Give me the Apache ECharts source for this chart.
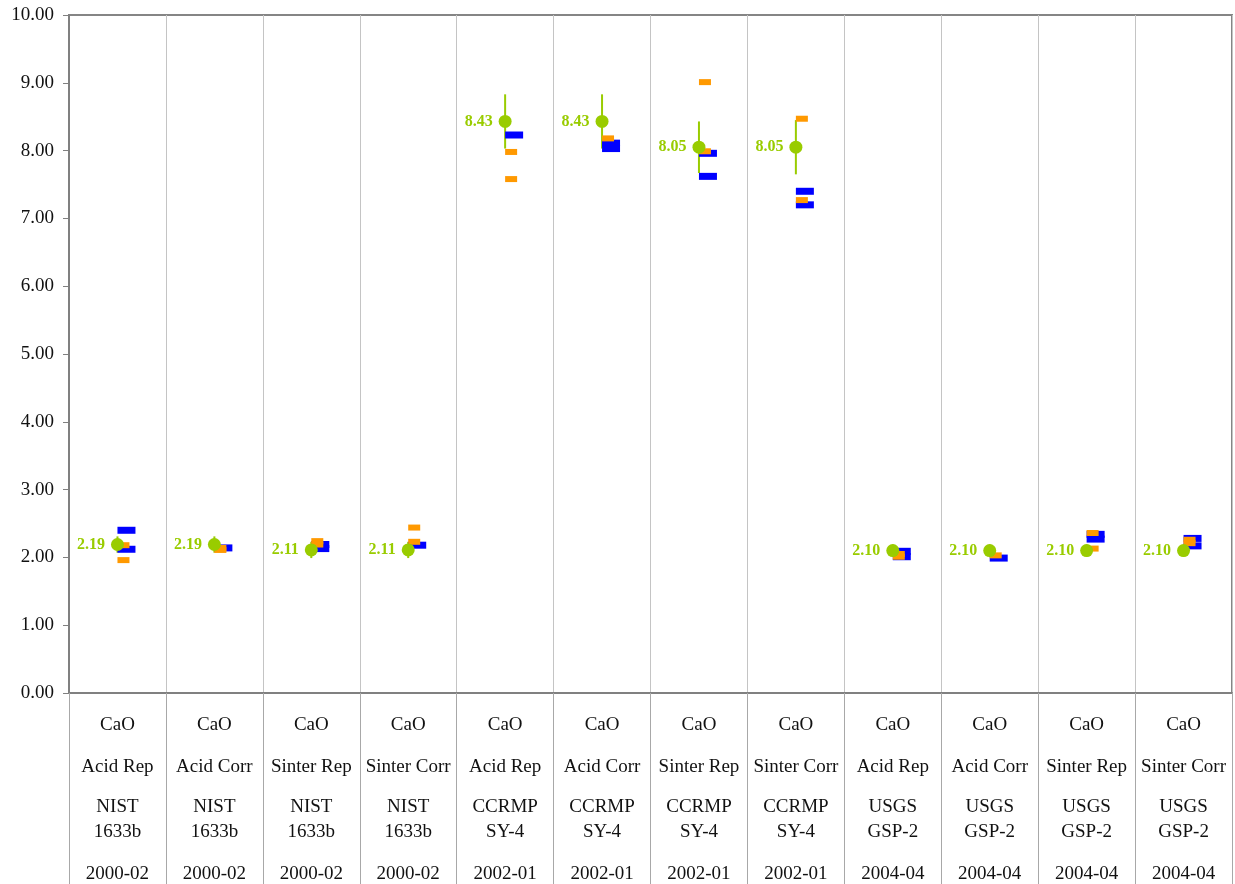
<!DOCTYPE html>
<html>
<head>
<meta charset="utf-8">
<script src="https://cdn.jsdelivr.net/npm/echarts@6/dist/echarts.min.js"></script>
<style>
  html, body { margin: 0; padding: 0; background: #ffffff; }
  #chart { width: 1235px; height: 884px; }
</style>
</head>
<body>
<div id="chart"></div>
<script>
// Category label parts: oxide, digestion / method, reference material, date
const oxides = ['CaO', 'CaO', 'CaO', 'CaO', 'CaO', 'CaO', 'CaO', 'CaO', 'CaO', 'CaO', 'CaO', 'CaO'];
const methods = ['Acid Rep', 'Acid Corr', 'Sinter Rep', 'Sinter Corr', 'Acid Rep', 'Acid Corr', 'Sinter Rep', 'Sinter Corr', 'Acid Rep', 'Acid Corr', 'Sinter Rep', 'Sinter Corr'];
const materialNames = ['NIST', 'NIST', 'NIST', 'NIST', 'CCRMP', 'CCRMP', 'CCRMP', 'CCRMP', 'USGS', 'USGS', 'USGS', 'USGS'];
const materialIds = ['1633b', '1633b', '1633b', '1633b', 'SY-4', 'SY-4', 'SY-4', 'SY-4', 'GSP-2', 'GSP-2', 'GSP-2', 'GSP-2'];
const dates = ['2000-02', '2000-02', '2000-02', '2000-02', '2002-01', '2002-01', '2002-01', '2002-01', '2004-04', '2004-04', '2004-04', '2004-04'];

// Certified values and their uncertainty
const certified = [2.19, 2.19, 2.11, 2.11, 8.43, 8.43, 8.05, 8.05, 2.10, 2.10, 2.10, 2.10];
const uncertainty = [0.12, 0.12, 0.12, 0.12, 0.40, 0.40, 0.38, 0.40, 0.09, 0.09, 0.09, 0.09];

// Measured results, lab A (blue) and lab B (orange)
const blueValues = [
  [2.40, 2.12], [2.14], [2.19, 2.13], [2.18],
  [8.23], [8.11, 8.03], [7.96, 7.62], [7.40, 7.20],
  [2.09, 2.01], [1.99], [2.34, 2.27], [2.28, 2.17]
];
const orangeValues = [
  [2.18, 1.96], [2.14, 2.11], [2.24, 2.19], [2.44, 2.23],
  [7.98, 7.58], [8.18], [9.01, 7.99], [8.47, 7.27],
  [2.05, 2.01], [2.03], [2.36, 2.13], [2.26, 2.21]
];

const yTicks = { min: 0, max: 10, interval: 1 };

const categories = oxides.map((o, i) =>
  '{ox|' + o + '}\n{me|' + methods[i] + '}\n{mn|' + materialNames[i] + '}\n{mi|' + materialIds[i] + '}\n{dt|' + dates[i] + '}'
);

function toPoints(groups) {
  const pts = [];
  groups.forEach((vals, i) => vals.forEach(v => pts.push([i, v])));
  return pts;
}

const green = '#99cc00';
const serif = 'Liberation Serif';
const labelLine = (h) => ({ fontFamily: serif, fontSize: 19, color: '#111111', lineHeight: h });

const chart = echarts.init(document.getElementById('chart'), null, { renderer: 'canvas' });

chart.setOption({
  animation: false,
  backgroundColor: '#ffffff',
  grid: {
    left: 69, right: 3, top: 15, bottom: 191,
    show: true, borderColor: '#858585', borderWidth: 2
  },
  xAxis: {
    type: 'category',
    data: categories,
    boundaryGap: true,
    axisLine: { show: true, lineStyle: { color: '#808080', width: 2 } },
    axisTick: { show: true, length: 191, lineStyle: { color: '#a8a8a8', width: 1 } },
    splitLine: { show: true, lineStyle: { color: '#c4c4c4', width: 1 } },
    axisLabel: {
      interval: 0,
      margin: 17,
      fontFamily: serif,
      fontSize: 19,
      color: '#111111',
      rich: {
        ox: labelLine(30),
        me: labelLine(54),
        mn: labelLine(26),
        mi: labelLine(24),
        dt: labelLine(60)
      }
    }
  },
  yAxis: {
    type: 'value',
    min: yTicks.min,
    max: yTicks.max,
    interval: yTicks.interval,
    axisLine: { show: true, lineStyle: { color: '#808080', width: 2 } },
    axisTick: { show: true, inside: false, length: 6, lineStyle: { color: '#808080' } },
    splitLine: { show: false },
    axisLabel: {
      margin: 15,
      fontFamily: serif,
      fontSize: 19,
      color: '#111111',
      formatter: v => v.toFixed(2)
    }
  },
  series: [
    {
      name: 'Uncertainty',
      type: 'custom',
      data: certified.map((v, i) => [i, v, uncertainty[i]]),
      renderItem: function (params, api) {
        const i = api.value(0), v = api.value(1), u = api.value(2);
        const top = api.coord([i, v + u]);
        const bot = api.coord([i, v - u]);
        return {
          type: 'line',
          shape: { x1: top[0], y1: top[1], x2: bot[0], y2: bot[1] },
          style: { stroke: green, lineWidth: 2 }
        };
      },
      z: 2
    },
    {
      name: 'Lab A',
      type: 'scatter',
      data: toPoints(blueValues),
      symbol: 'rect',
      symbolSize: [18, 7],
      symbolOffset: [9, 0],
      itemStyle: { color: '#0000ff', opacity: 1 },
      z: 3
    },
    {
      name: 'Lab B',
      type: 'scatter',
      data: toPoints(orangeValues),
      symbol: 'rect',
      symbolSize: [12, 6],
      symbolOffset: [6, 0],
      itemStyle: { color: '#ff9900', opacity: 1 },
      z: 4
    },
    {
      name: 'Certified',
      type: 'scatter',
      data: certified.map((v, i) => [i, v]),
      symbol: 'circle',
      symbolSize: 13,
      itemStyle: { color: green, opacity: 1 },
      label: {
        show: true,
        position: 'left',
        distance: 6,
        formatter: p => p.value[1].toFixed(2),
        color: green,
        fontFamily: serif,
        fontWeight: 'bold',
        fontSize: 16
      },
      z: 5
    }
  ]
});
</script>
</body>
</html>
